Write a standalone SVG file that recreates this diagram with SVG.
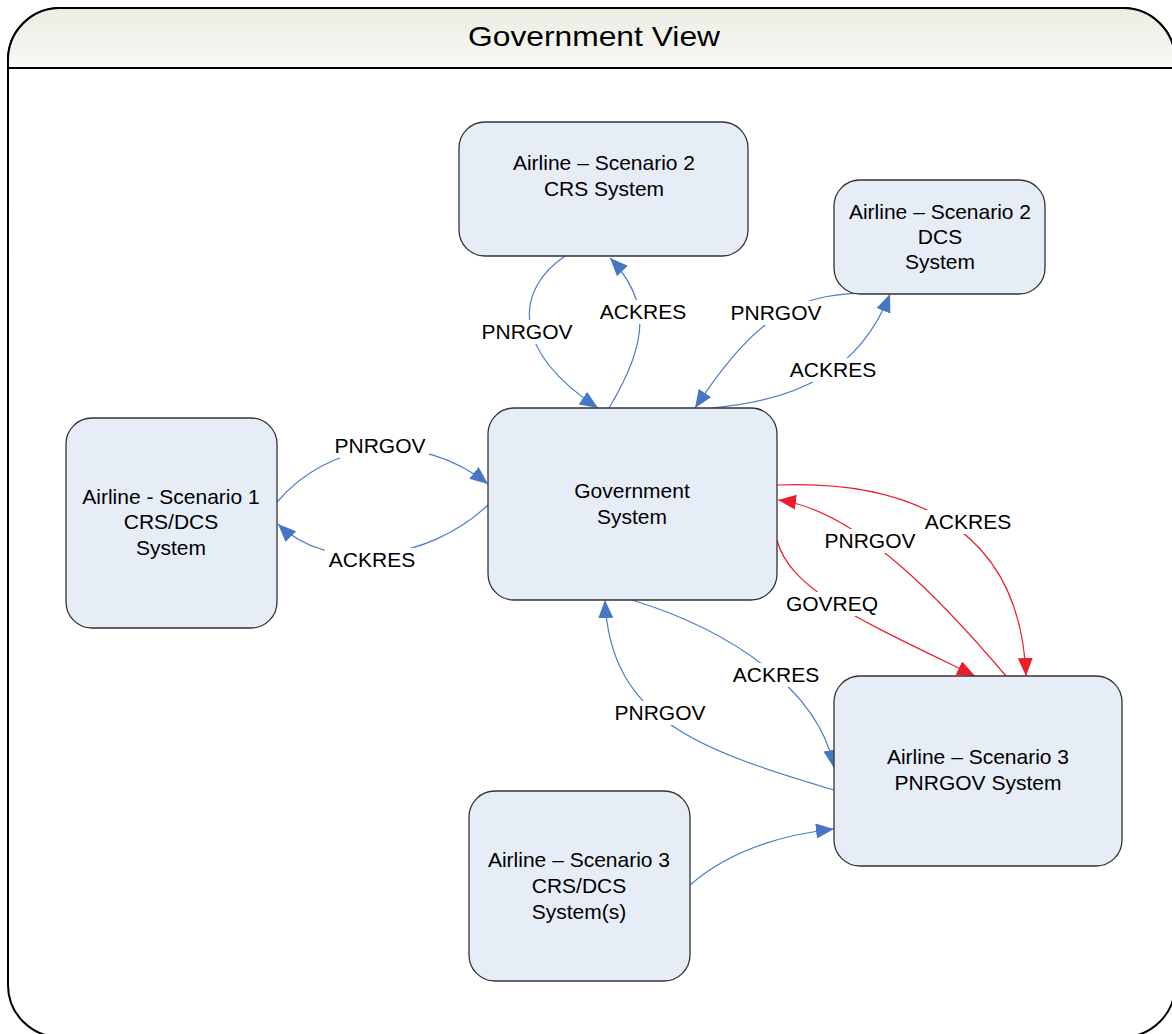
<svg xmlns="http://www.w3.org/2000/svg" width="1172" height="1034" viewBox="0 0 1172 1034">
<defs>
<linearGradient id="hdr" x1="0" y1="0" x2="0" y2="1">
<stop offset="0" stop-color="#ecece4"/>
<stop offset="1" stop-color="#f9f9f5"/>
</linearGradient>
<marker id="ab" markerUnits="userSpaceOnUse" markerWidth="20" markerHeight="16" refX="18" refY="7.5" orient="auto">
<path d="M0,0 L18,7.5 L0,15 z" fill="#4677c4"/>
</marker>
<marker id="ar" markerUnits="userSpaceOnUse" markerWidth="20" markerHeight="16" refX="18" refY="7.5" orient="auto">
<path d="M0,0 L18,7.5 L0,15 z" fill="#ee1c2b"/>
</marker>
</defs>
<style>
.node{fill:#e6edf7;stroke:#333;stroke-width:1.3}
.t{font-family:"Liberation Sans",Arial,sans-serif;font-size:21px;fill:#000;text-anchor:middle}
.blue{fill:none;stroke:#4a7cc9;stroke-width:1.2;marker-end:url(#ab)}
.red{fill:none;stroke:#ee1c2b;stroke-width:1.2;marker-end:url(#ar)}
.lbg{fill:#fff}
</style>
<rect width="1172" height="1034" fill="#fff"/>
<g id="frame">
<rect x="8" y="8" width="1167" height="1029" rx="52" ry="52" fill="#fff" stroke="#000" stroke-width="2"/>
<path d="M8,68 V60 A52,52 0 0 1 60,8 H1123 A52,52 0 0 1 1175,60 V68 Z" fill="url(#hdr)" stroke="#000" stroke-width="2"/>
<text x="594" y="46" font-family="Liberation Sans,Arial,sans-serif" font-size="28" text-anchor="middle" textLength="252" lengthAdjust="spacingAndGlyphs">Government View</text>
</g>
<g id="connectors">
<path class="blue" d="M565,256 C515,290 510,350 598,408"/>
<path class="blue" d="M609,408 C650,340 650,300 610,258"/>
<path class="blue" d="M878,293 C800,292 760,310 695,408"/>
<path class="blue" d="M712,408 C800,400 860,370 890,294"/>
<path class="blue" d="M277,502 C330,440 420,430 488,484"/>
<path class="blue" d="M488,505 C430,560 330,575 278,524"/>
<path class="red" d="M777,485 C900,480 1020,520 1026,676"/>
<path class="red" d="M1006,676 C950,610 860,510 778,500"/>
<path class="red" d="M777,540 C790,590 860,620 975,676"/>
<path class="blue" d="M632,600 C730,630 820,690 834,768"/>
<path class="blue" d="M834,790 C700,750 610,720 605,600"/>
<path class="blue" d="M690,885 C730,850 780,835 834,829"/>
</g>
<g id="labels">
<rect class="lbg" x="478" y="320" width="98" height="24"/><text class="t" x="527" y="339">PNRGOV</text>
<rect class="lbg" x="596" y="300" width="94" height="24"/><text class="t" x="643" y="319">ACKRES</text>
<rect class="lbg" x="727" y="301" width="98" height="24"/><text class="t" x="776" y="320">PNRGOV</text>
<rect class="lbg" x="786" y="358" width="94" height="24"/><text class="t" x="833" y="377">ACKRES</text>
<rect class="lbg" x="331" y="434" width="98" height="24"/><text class="t" x="380" y="453">PNRGOV</text>
<rect class="lbg" x="325" y="548" width="94" height="24"/><text class="t" x="372" y="567">ACKRES</text>
<rect class="lbg" x="921" y="510" width="94" height="24"/><text class="t" x="968" y="529">ACKRES</text>
<rect class="lbg" x="821" y="529" width="98" height="24"/><text class="t" x="870" y="548">PNRGOV</text>
<rect class="lbg" x="782" y="592" width="100" height="24"/><text class="t" x="832" y="611">GOVREQ</text>
<rect class="lbg" x="729" y="663" width="94" height="24"/><text class="t" x="776" y="682">ACKRES</text>
<rect class="lbg" x="611" y="701" width="98" height="24"/><text class="t" x="660" y="720">PNRGOV</text>
</g>
<g id="crs2">
<rect class="node" x="459" y="122" width="289" height="134" rx="26"/>
<text class="t" x="604" y="170">Airline – Scenario 2</text>
<text class="t" x="604" y="196">CRS System</text>
</g>
<g id="dcs2">
<rect class="node" x="834" y="180" width="211" height="114" rx="26"/>
<text class="t" x="940" y="219">Airline – Scenario 2</text>
<text class="t" x="940" y="244">DCS</text>
<text class="t" x="940" y="269">System</text>
</g>
<g id="s1">
<rect class="node" x="66" y="418" width="211" height="210" rx="26"/>
<text class="t" x="171" y="504">Airline - Scenario 1</text>
<text class="t" x="171" y="529">CRS/DCS</text>
<text class="t" x="171" y="555">System</text>
</g>
<g id="gov">
<rect class="node" x="488" y="408" width="289" height="192" rx="26"/>
<text class="t" x="632" y="498">Government</text>
<text class="t" x="632" y="524">System</text>
</g>
<g id="s3pnr">
<rect class="node" x="834" y="676" width="288" height="190" rx="26"/>
<text class="t" x="978" y="764">Airline – Scenario 3</text>
<text class="t" x="978" y="790">PNRGOV System</text>
</g>
<g id="s3crs">
<rect class="node" x="469" y="791" width="221" height="190" rx="26"/>
<text class="t" x="579" y="867">Airline – Scenario 3</text>
<text class="t" x="579" y="893">CRS/DCS</text>
<text class="t" x="579" y="919">System(s)</text>
</g>
</svg>
